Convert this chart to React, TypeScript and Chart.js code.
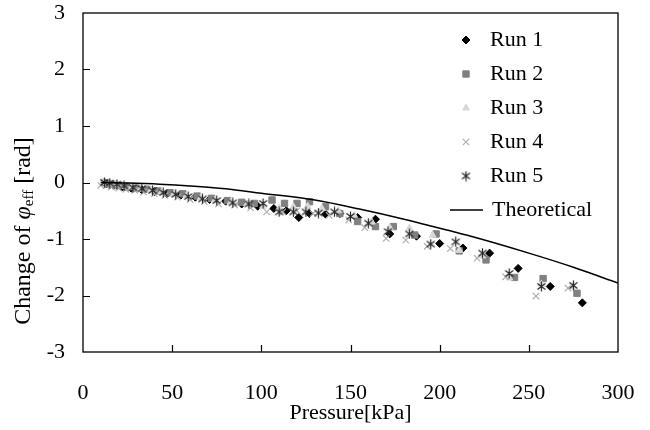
import React, { useEffect, useRef } from 'react';
import { Chart, registerables } from 'chart.js';
import { drawPoint } from 'chart.js/helpers';

Chart.register(...registerables);

const FONT = '"Liberation Serif", "Times New Roman", serif';

const xTicks = [0, 50, 100, 150, 200, 250, 300];
const yTicks = [-3, -2, -1, 0, 1, 2, 3];

const run1P = [13, 17, 22, 27, 33, 40, 47, 55, 63, 71, 80, 89, 98, 107, 114, 121, 127, 136, 144, 154, 164, 172, 187, 200, 213, 228, 244, 262, 280];
const run1V = [-0.02, -0.05, -0.08, -0.1, -0.13, -0.16, -0.2, -0.22, -0.26, -0.3, -0.33, -0.38, -0.42, -0.46, -0.5, -0.62, -0.55, -0.56, -0.55, -0.62, -0.65, -0.91, -0.95, -1.08, -1.16, -1.25, -1.52, -1.84, -2.13];

const run2P = [12, 16, 20, 25, 30, 36, 42, 49, 56, 64, 72, 81, 89, 96, 106, 113, 120, 127, 136, 144, 154, 164, 174, 186, 198, 211, 226, 242, 258, 277];
const run2V = [0, -0.03, -0.05, -0.08, -0.1, -0.12, -0.15, -0.18, -0.2, -0.24, -0.28, -0.32, -0.35, -0.37, -0.31, -0.37, -0.37, -0.34, -0.43, -0.55, -0.69, -0.78, -0.78, -0.93, -0.91, -1.21, -1.37, -1.68, -1.7, -1.96];

const run3P = [11, 14, 18, 22, 27, 32, 38, 44, 51, 58, 66, 74, 83, 92, 101, 110, 118, 126, 134, 143, 152, 162, 172, 183, 196, 211, 224, 239, 257, 275];
const run3V = [0, -0.02, -0.04, -0.07, -0.09, -0.12, -0.14, -0.17, -0.2, -0.23, -0.27, -0.31, -0.34, -0.38, -0.42, -0.45, -0.43, -0.42, -0.46, -0.5, -0.58, -0.7, -0.8, -0.81, -0.93, -1.2, -1.3, -1.69, -1.8, -1.85];

const run4P = [10, 13, 16, 20, 24, 29, 34, 40, 46, 53, 60, 68, 76, 85, 94, 103, 112, 120, 129, 138, 149, 158, 170, 181, 193, 206, 221, 237, 254, 272];
const run4V = [-0.05, -0.06, -0.08, -0.1, -0.12, -0.14, -0.17, -0.2, -0.23, -0.26, -0.3, -0.34, -0.38, -0.4, -0.45, -0.52, -0.52, -0.5, -0.55, -0.58, -0.66, -0.8, -0.99, -1.02, -1.13, -1.17, -1.34, -1.67, -2.01, -1.87];

const run5P = [12, 15, 19, 23, 28, 33, 39, 45, 52, 59, 67, 75, 84, 93, 101, 110, 118, 125, 132, 141, 150, 160, 171, 183, 195, 209, 224, 239, 257, 275];
const run5V = [0, -0.01, -0.03, -0.06, -0.09, -0.11, -0.14, -0.18, -0.21, -0.25, -0.29, -0.32, -0.36, -0.38, -0.37, -0.52, -0.52, -0.52, -0.54, -0.52, -0.6, -0.72, -0.87, -0.91, -1.09, -1.05, -1.25, -1.61, -1.84, -1.82];

const theoP = [10, 25, 43, 60, 80, 100, 130, 155, 180, 195, 215, 250, 275, 300];
const theoV = [0, -0.01, -0.03, -0.06, -0.11, -0.19, -0.31, -0.47, -0.65, -0.77, -0.93, -1.25, -1.5, -1.78];

const toXY = (p: number[], v: number[]) => p.map((x, i) => ({ x, y: v[i] }));

function makeAsterisk(color: string): HTMLCanvasElement {
  const c = document.createElement('canvas');
  c.width = 11;
  c.height = 11;
  const g = c.getContext('2d')!;
  g.strokeStyle = color;
  g.lineWidth = 1.2;
  g.beginPath();
  g.moveTo(5.5, 0.5); g.lineTo(5.5, 10.5);
  g.moveTo(1.5, 2.5); g.lineTo(9.5, 8.5);
  g.moveTo(9.5, 2.5); g.lineTo(1.5, 8.5);
  g.stroke();
  return c;
}

export default function App() {
  const ref = useRef<HTMLCanvasElement>(null);

  useEffect(() => {
    if (!ref.current) return;
    const star = makeAsterisk('#262626');

    const legendItems: any[] = [
      { label: 'Run 1', style: 'rectRot', radius: 4, fill: '#000000', stroke: '#000000', bw: 1 },
      { label: 'Run 2', style: 'rect', radius: 4.5, fill: '#808080', stroke: '#808080', bw: 1 },
      { label: 'Run 3', style: 'triangle', radius: 4, fill: '#d9d9d9', stroke: '#d9d9d9', bw: 1 },
      { label: 'Run 4', style: 'crossRot', radius: 4.5, fill: '#b0b0b0', stroke: '#b0b0b0', bw: 1.2 },
      { label: 'Run 5', style: star, radius: 5, fill: '#262626', stroke: '#262626', bw: 1 },
      { label: 'Theoretical', style: 'line' },
    ];

    const framePlugin = {
      id: 'frame',
      afterDatasetsDraw(chart: any) {
        const { ctx, chartArea: a, scales } = chart;
        ctx.save();
        ctx.strokeStyle = '#000';
        ctx.lineWidth = 1.3;
        ctx.strokeRect(a.left, a.top, a.right - a.left, a.bottom - a.top);
        ctx.lineWidth = 1.2;
        ctx.beginPath();
        xTicks.slice(1, -1).forEach((v) => {
          const px = Math.round(scales.x.getPixelForValue(v)) + 0.5;
          ctx.moveTo(px, a.bottom);
          ctx.lineTo(px, a.bottom - 7);
        });
        yTicks.slice(1, -1).forEach((v) => {
          const py = Math.round(scales.y.getPixelForValue(v)) + 0.5;
          ctx.moveTo(a.left, py);
          ctx.lineTo(a.left + 7, py);
        });
        ctx.stroke();

        // legend
        ctx.font = `22px ${FONT}`;
        ctx.fillStyle = '#000';
        ctx.textBaseline = 'middle';
        ctx.textAlign = 'left';
        legendItems.forEach((it, i) => {
          const y = 40 + i * 34;
          if (it.style === 'line') {
            ctx.strokeStyle = '#000';
            ctx.lineWidth = 1.5;
            ctx.beginPath();
            ctx.moveTo(450, y);
            ctx.lineTo(483, y);
            ctx.stroke();
            ctx.fillText(it.label, 492, y);
          } else {
            ctx.fillStyle = it.fill;
            ctx.strokeStyle = it.stroke;
            ctx.lineWidth = it.bw;
            drawPoint(ctx, { pointStyle: it.style, radius: it.radius, rotation: 0, borderWidth: it.bw }, 466, y);
            ctx.fillStyle = '#000';
            ctx.fillText(it.label, 490, y);
          }
        });

        // x title
        ctx.textAlign = 'center';
        ctx.fillText('Pressure[kPa]', (a.left + a.right) / 2, 413);

        // y title
        ctx.save();
        ctx.translate(24, 231);
        ctx.rotate(-Math.PI / 2);
        const parts = [
          { t: 'Change of ', f: `24px ${FONT}`, dy: 0 },
          { t: 'φ', f: `italic 24px ${FONT}`, dy: 0 },
          { t: 'eff', f: `15px ${FONT}`, dy: 5 },
          { t: ' [rad]', f: `24px ${FONT}`, dy: 0 },
        ];
        let total = 0;
        parts.forEach((p) => { ctx.font = p.f; total += ctx.measureText(p.t).width; });
        let cx = -total / 2;
        ctx.textAlign = 'left';
        parts.forEach((p) => {
          ctx.font = p.f;
          ctx.fillText(p.t, cx, p.dy);
          cx += ctx.measureText(p.t).width;
        });
        ctx.restore();
        ctx.restore();
      },
    };

    const chart = new Chart(ref.current, {
      type: 'scatter',
      data: {
        datasets: [
          {
            label: 'Theoretical',
            data: toXY(theoP, theoV),
            showLine: true,
            borderColor: '#000',
            borderWidth: 1.5,
            pointRadius: 0,
            tension: 0.4,
            cubicInterpolationMode: 'monotone',
            order: 0,
          } as any,
          { label: 'Run 5', data: toXY(run5P, run5V), pointStyle: star, pointRadius: 5, backgroundColor: '#262626', borderColor: '#262626', order: 1 },
          { label: 'Run 4', data: toXY(run4P, run4V), pointStyle: 'crossRot', pointRadius: 4.5, borderWidth: 1.2, backgroundColor: '#b0b0b0', borderColor: '#b0b0b0', order: 2 },
          { label: 'Run 3', data: toXY(run3P, run3V), pointStyle: 'triangle', pointRadius: 4, backgroundColor: '#d9d9d9', borderColor: '#d9d9d9', order: 3 },
          { label: 'Run 2', data: toXY(run2P, run2V), pointStyle: 'rect', pointRadius: 4.5, backgroundColor: '#808080', borderColor: '#808080', order: 4 },
          { label: 'Run 1', data: toXY(run1P, run1V), pointStyle: 'rectRot', pointRadius: 4, backgroundColor: '#000000', borderColor: '#000000', order: 5 },
        ],
      },
      options: {
        responsive: false,
        animation: false,
        devicePixelRatio: 1,
        layout: { padding: { top: 13, right: 32, left: 0, bottom: 0 } },
        plugins: { legend: { display: false }, tooltip: { enabled: false }, title: { display: false } },
        scales: {
          x: {
            type: 'linear',
            min: 0,
            max: 300,
            afterBuildTicks: (s: any) => { s.ticks = xTicks.map((v) => ({ value: v })); },
            afterFit: (s: any) => { s.height = 78; s.paddingLeft = 0; s.paddingRight = 0; },
            grid: { display: false, drawTicks: false },
            border: { display: false },
            ticks: { color: '#000', font: { family: FONT, size: 22 }, padding: 28, maxRotation: 0 },
          },
          y: {
            type: 'linear',
            min: -3,
            max: 3,
            afterBuildTicks: (s: any) => { s.ticks = yTicks.map((v) => ({ value: v })); },
            afterFit: (s: any) => { s.width = 83; s.paddingTop = 0; s.paddingBottom = 0; },
            grid: { display: false, drawTicks: false },
            border: { display: false },
            ticks: { color: '#000', font: { family: FONT, size: 22 }, padding: 18 },
          },
        },
      },
      plugins: [framePlugin],
    });
    return () => chart.destroy();
  }, []);

  return (
    <div style={{ position: 'absolute', left: 0, top: 0, width: 650, height: 430, background: '#fff' }}>
      <canvas ref={ref} width={650} height={430} style={{ width: 650, height: 430 }} />
    </div>
  );
}
